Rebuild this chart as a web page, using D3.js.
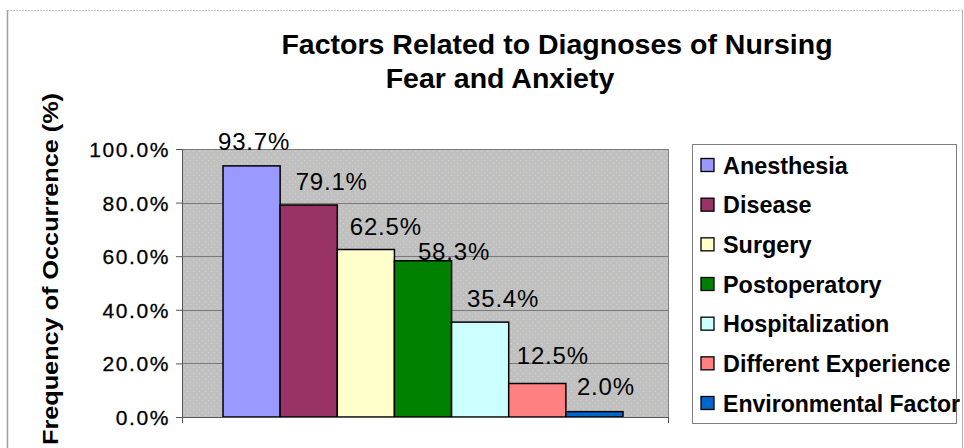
<!DOCTYPE html>
<html>
<head>
<meta charset="utf-8">
<script src="https://cdn.jsdelivr.net/npm/d3@7/dist/d3.min.js"></script>
<style>
  html, body { margin: 0; padding: 0; background: #fff; }
  svg { display: block; font-family: "Liberation Sans", Arial, sans-serif; }
</style>
</head>
<body>
<svg id="chart" width="964" height="448"></svg>
<script>
// ---- data ----
const categories = ["Anesthesia", "Disease", "Surgery", "Postoperatory", "Hospitalization", "Different Experience", "Environmental Factor"];
const values = [0.937, 0.791, 0.625, 0.583, 0.354, 0.125, 0.020];
const yTicks = [0, 0.2, 0.4, 0.6, 0.8, 1.0];
const titleLines = ["Factors Related to Diagnoses of Nursing", "Fear and Anxiety"];
const yTitle = "Frequency of Occurrence (%)";

// ---- styles ----
const colors = ["#9999ff", "#993366", "#ffffcc", "#008000", "#ccffff", "#ff8080", "#0066cc"];
const labelDx = [2.5, 23, 20, 31, 23, 15.5, 11.5];   // label nudges relative to bar centre
const labelLift = [15.5, 15, 15, 1, 15, 20, 16.5];   // baseline distance above bar top

const svg = d3.select("#chart");
const plot = { left: 182, right: 668, top: 149, bottom: 417 };

// pattern for plot background
const defs = svg.append("defs");
const pat = defs.append("pattern").attr("id", "bgdots").attr("width", 6).attr("height", 6)
  .attr("patternUnits", "userSpaceOnUse");
pat.append("rect").attr("width", 6).attr("height", 6).attr("fill", "#c0c0c0");
pat.append("rect").attr("x", 1).attr("y", 1).attr("width", 1).attr("height", 1).attr("fill", "#d4d4c4");
pat.append("rect").attr("x", 4).attr("y", 4).attr("width", 1).attr("height", 1).attr("fill", "#d0d0c8");

// outer frame
svg.append("line").attr("x1", 7).attr("x2", 962).attr("y1", 10.5).attr("y2", 10.5)
  .attr("stroke", "#c8c8c8").attr("stroke-dasharray", "2,1");
svg.append("line").attr("x1", 7.5).attr("x2", 7.5).attr("y1", 10).attr("y2", 448)
  .attr("stroke", "#a0a0a0").attr("stroke-width", 1.5);
svg.append("line").attr("x1", 962.5).attr("x2", 962.5).attr("y1", 10).attr("y2", 448)
  .attr("stroke", "#b0b0b0");

// title
const titleG = svg.append("g").attr("font-weight", "bold").attr("font-size", "28.5px")
  .attr("text-anchor", "middle").attr("fill", "#000");
titleG.append("text").attr("x", 557).attr("y", 54).text(titleLines[0]);
titleG.append("text").attr("x", 500).attr("y", 88).text(titleLines[1]);

// scales
const y = d3.scaleLinear().domain([0, 1]).range([plot.bottom, plot.top]);
const x = d3.scaleBand().domain(categories).range([plot.left + 41, plot.right - 45]).padding(0);

// plot background
svg.append("rect").attr("x", plot.left).attr("y", plot.top)
  .attr("width", plot.right - plot.left).attr("height", plot.bottom - plot.top)
  .attr("fill", "url(#bgdots)");

// gridlines
svg.append("g").selectAll("line").data(yTicks.filter(d => d > 0)).join("line")
  .attr("x1", plot.left).attr("x2", plot.right)
  .attr("y1", d => Math.round(y(d)) + 0.5).attr("y2", d => Math.round(y(d)) + 0.5)
  .attr("stroke", "#7a7a7a").attr("stroke-width", 1);
// right border
svg.append("line").attr("x1", plot.right + 0.5).attr("x2", plot.right + 0.5)
  .attr("y1", plot.top).attr("y2", plot.bottom).attr("stroke", "#808080");

// bars
svg.append("g").selectAll("rect").data(values).join("rect")
  .attr("x", (d, i) => x(categories[i]))
  .attr("y", d => y(d))
  .attr("width", x.bandwidth())
  .attr("height", d => plot.bottom - y(d))
  .attr("fill", (d, i) => colors[i])
  .attr("stroke", "#000").attr("stroke-width", 1.5);

// y axis
const yAxis = d3.axisLeft(y).tickValues(yTicks).tickFormat(d3.format(".1%")).tickSize(6).tickPadding(9);
const yg = svg.append("g").attr("transform", `translate(${plot.left},0)`).call(yAxis);
yg.select(".domain").attr("stroke", "#555").attr("d", `M0.5,${plot.top}V${plot.bottom + 6}`);
yg.selectAll(".tick line").attr("stroke", "#555");
yg.selectAll(".tick text").attr("font-size", "21px").attr("font-family", "Liberation Sans, Arial, sans-serif")
  .attr("letter-spacing", "1.6px").attr("fill", "#000").attr("stroke", "#000").attr("stroke-width", 0.3)
  .attr("dy", "0.36em").attr("x", -12);

// x axis line
svg.append("path").attr("d", `M${plot.left},${plot.bottom + 0.5}H${plot.right + 1}M${plot.right + 0.5},${plot.bottom}V${plot.bottom + 6}`)
  .attr("stroke", "#555").attr("fill", "none");

// data labels
svg.append("g").selectAll("text").data(values).join("text")
  .attr("x", (d, i) => x(categories[i]) + x.bandwidth() / 2 + labelDx[i])
  .attr("y", (d, i) => y(d) - labelLift[i])
  .attr("text-anchor", "middle").attr("font-size", "24px").attr("letter-spacing", "0.8px")
  .attr("fill", "#000")
  .text(d => d3.format(".1%")(d));

// y title
svg.append("text")
  .attr("transform", "translate(58,269) rotate(-90)")
  .attr("text-anchor", "middle").attr("font-weight", "bold").attr("font-size", "22px")
  .attr("textLength", 352).attr("lengthAdjust", "spacingAndGlyphs")
  .text(yTitle);

// legend
const lg = svg.append("g");
lg.append("rect").attr("x", 692.5).attr("y", 144.5).attr("width", 264).attr("height", 279)
  .attr("fill", "#fff").attr("stroke", "#808080");
const rowY = d3.scalePoint().domain(categories).range([165, 403]);
const items = lg.selectAll("g.item").data(categories).join("g").attr("class", "item")
  .attr("transform", d => `translate(0,${rowY(d)})`);
items.append("rect").attr("x", 701).attr("y", -6.5).attr("width", 13).attr("height", 13)
  .attr("fill", (d, i) => colors[i]).attr("stroke", "#000").attr("stroke-width", 1.3);
items.append("text").attr("x", 723).attr("y", 8.5)
  .attr("font-weight", "bold").attr("font-size", "23.4px").attr("fill", "#000")
  .text(d => d)
  .each(function() {
    const maxW = 960 - 723;
    if (this.getComputedTextLength() > maxW) {
      d3.select(this).attr("textLength", maxW).attr("lengthAdjust", "spacingAndGlyphs");
    }
  });
</script>
</body>
</html>
